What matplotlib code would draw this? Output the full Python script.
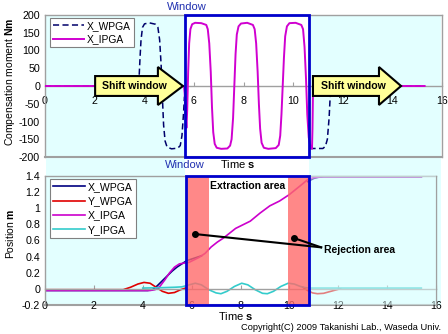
import matplotlib
matplotlib.use('Agg')
import matplotlib.pyplot as plt
import numpy as np
from matplotlib.patches import Rectangle, Polygon

plt.rcParams['font.family'] = ['Liberation Sans', 'DejaVu Sans']
plt.rcParams['mathtext.fontset'] = 'custom'
plt.rcParams['mathtext.rm'] = 'Liberation Sans'
plt.rcParams['mathtext.bf'] = 'Liberation Sans:bold'

NAN = float('nan')

# ---------------- data: top chart (compensation moment, Nm) ----------------
top_xticks = [0, 2, 4, 6, 8, 10, 12, 14, 16]
top_yticks = [200, 150, 100, 50, 0, -50, -100, -150, -200]
top_ylabels = ['200', '150', '100', '50', '0', '-50', '-100', '-150', '-200']

x_ipga_t = [0, 5.60, 5.63, 5.66, 5.70, 5.73, 5.77, 5.81, 5.86, 5.93, 6.05, 6.30, 6.50,
            6.56, 6.62, 6.68, 6.73, 6.78, 6.84, 6.92, 7.10, 7.35, 7.46, 7.52, 7.58,
            7.63, 7.68, 7.73, 7.80, 7.90, 8.15, 8.38, 8.45, 8.51, 8.57, 8.62, 8.67,
            8.73, 8.82, 9.00, 9.30, 9.42, 9.48, 9.53, 9.58, 9.63, 9.68, 9.75, 9.85,
            10.10, 10.33, 10.40, 10.46, 10.52, 10.57, 10.63, 10.70, 10.76, 10.78,
            10.80, 10.83, 15.30]
x_ipga_m = [0, 0, -20, -70, -118, -70, 40, 120, 160, 174, 178, 177, 172,
            160, 120, 40, -60, -130, -163, -174, -177, -176, -168, -150, -90,
            0, 90, 145, 168, 176, 178, 172, 160, 120, 40, -50, -120,
            -160, -174, -177, -175, -166, -140, -80, 0, 80, 140, 168, 177,
            178, 172, 160, 110, 20, -80, -145, -172, -177, -120,
            -20, 0, 0]

x_wpga_t = [0, 3.74, 3.79, 3.83, 3.87, 3.93, 4.01, 4.20, 4.45, 4.55, 4.62, 4.68,
            4.73, 4.78, 4.84, 4.92, 5.10, 5.35, 5.45, 5.52, 5.58, 5.62, NAN,
            10.66, 11.20, 11.30, 11.38, 11.45, 11.50, 11.55, 15.30]
x_wpga_m = [0, 0, 20, 80, 130, 165, 175, 178, 174, 165, 130, 60,
            -30, -110, -155, -172, -177, -175, -168, -140, -80, -30, NAN,
            -176, -176, -170, -150, -90, -20, 0, 0]

# ---------------- data: bottom chart (position, m) ----------------
bot_xticks = [0, 2, 4, 6, 8, 10, 12, 14, 16]
bot_yticks = [1.4, 1.2, 1.0, 0.8, 0.6, 0.4, 0.2, 0.0, -0.2]
bot_ylabels = ['1.4', '1.2', '1', '0.8', '0.6', '0.4', '0.2', '0', '-0.2']

pos_xw_t = [0, 4.2, 4.4, 4.6, 4.8, 5.0, 5.2, 5.4, 5.6, 5.8, 6.0, 6.2, 6.4, NAN,
            10.75, 11.0, 11.2, 11.4, 15.4]
pos_xw_v = [-0.02, -0.02, -0.01, 0.04, 0.1, 0.16, 0.22, 0.27, 0.31, 0.35, 0.37, 0.39, 0.41, NAN,
            1.33, 1.37, 1.385, 1.39, 1.39]

pos_yw_t = [0, 3.2, 3.5, 3.8, 4.05, 4.3, 4.55, 4.8, 5.05, 5.3, 5.55, 5.75, NAN,
            10.55, 10.75, 10.95, 11.15, 11.4, 11.7, 12.0, 12.1]
pos_yw_v = [-0.01, -0.01, 0.02, 0.06, 0.08, 0.07, 0.02, -0.03, -0.055, -0.045, -0.01, 0.01, NAN,
            0.02, -0.02, -0.05, -0.06, -0.055, -0.03, -0.005, 0.0]

pos_xi_t = [0, 4.3, 4.5, 4.7, 4.9, 5.1, 5.3, 5.5, 5.7, 5.9, 6.1, 6.3, 6.55, 6.8, 7.05,
            7.3, 7.55, 7.8, 8.0, 8.4, 8.8, 9.2, 9.6, 10.0, 10.45, 10.77, 11.0, 11.3, 15.4]
pos_xi_v = [-0.02, -0.02, -0.01, 0.03, 0.11, 0.2, 0.27, 0.31, 0.32, 0.33, 0.36, 0.39, 0.44, 0.52, 0.58,
            0.63, 0.69, 0.75, 0.78, 0.84, 0.94, 1.03, 1.09, 1.17, 1.28, 1.36, 1.38, 1.39, 1.39]

pos_yi_t = [4.0, 4.8, 5.3, 5.6, 5.9, 6.15, 6.4, 6.7, 7.0, 7.2, 7.45, 7.75, 8.05, 8.3, 8.6,
            8.9, 9.1, 9.35, 9.65, 9.95, 10.2, 10.45, 10.65, 10.8, 15.4]
pos_yi_v = [0.01, 0.015, 0.02, 0.025, 0.05, 0.07, 0.05, -0.01, -0.05, -0.06, -0.03, 0.03, 0.07, 0.05, -0.01,
            -0.055, -0.06, -0.03, 0.03, 0.07, 0.06, 0.03, 0.015, 0.01, 0.01]

# ---------------- figure ----------------
W, H = 448, 334
fig = plt.figure(figsize=(W / 100, H / 100), dpi=100)


def fx(px):
    return px / W


def fy(py):
    return 1 - py / H


LIGHT = '#E3FFFF'
GRAY = '#A0A0A0'
BLUE = '#0000CC'

fig.patches.append(Rectangle((fx(46), fy(306)), fx(441) - fx(46), fy(15) - fy(306),
                             transform=fig.transFigure, facecolor=LIGHT, edgecolor='none', zorder=-2))
fig.patches.append(Rectangle((fx(185), fy(306)), fx(309) - fx(185), fy(15) - fy(306),
                             transform=fig.transFigure, facecolor='white', edgecolor='none', zorder=-1))

# ---- top axes ----
ax1 = fig.add_axes([fx(45), fy(157), (442 - 45) / W, (157 - 15) / H])
ax1.patch.set_alpha(0)
ax1.set_xlim(0, 16)
ax1.set_ylim(-200, 200)
for s in ax1.spines.values():
    s.set_color(GRAY)
    s.set_linewidth(1)
ax1.spines['bottom'].set_position(('data', 0))
ax1.axhline(-200, color=GRAY, lw=1.5, clip_on=False, zorder=1)
ax1.set_xticks(top_xticks)
ax1.set_xticklabels([str(v) for v in top_xticks])
ax1.set_yticks(top_yticks)
ax1.set_yticklabels(top_ylabels)
ax1.tick_params(axis='x', direction='in', length=3, color=GRAY, pad=7.5, labelsize=7.7)
ax1.tick_params(axis='y', length=0, pad=3.5, labelsize=7.7)

l1, = ax1.plot(x_wpga_t, x_wpga_m, color='#00006A', lw=1.1, dashes=(4, 2.2), label='X_WPGA', zorder=3)
l2, = ax1.plot(x_ipga_t, x_ipga_m, color='#D000D0', lw=1.4, label='X_IPGA', zorder=4)

hb, hh = 28, 53.5
for x0, xh, xt, tx in [(2.02, 4.55, 5.56, 3.59), (10.8, 13.46, 14.35, 12.41)]:
    poly = Polygon([(x0, -hb), (xh, -hb), (xh, -hh), (xt, 0), (xh, hh), (xh, hb), (x0, hb)],
                   closed=True, facecolor='#FFFF99', edgecolor='black', lw=1.5,
                   joinstyle='miter', zorder=6, clip_on=False)
    ax1.add_patch(poly)
    ax1.text(tx, 0, 'Shift window', ha='center', va='center', fontsize=7.6,
             fontweight='bold', zorder=7)

ax1.add_patch(Rectangle((5.64, -200), 5.0, 400, fill=False, edgecolor=BLUE, lw=2,
                        zorder=8, clip_on=False))

leg1 = ax1.legend(handles=[l1, l2], loc='upper left',
                  bbox_to_anchor=((50 - 45) / 397, 1 - (18 - 15) / 142), borderaxespad=0,
                  fontsize=7.4, fancybox=False, edgecolor='#808080', framealpha=1,
                  handlelength=3, labelspacing=0.3, borderpad=0.3, handletextpad=0.3)
leg1.get_frame().set_linewidth(0.8)
leg1.set_zorder(10)

# ---- bottom axes ----
ax2 = fig.add_axes([fx(45), fy(305), (436 - 45) / W, (305 - 176) / H])
ax2.patch.set_alpha(0)
ax2.set_xlim(0, 16)
ax2.set_ylim(-0.2, 1.4)
for s in ax2.spines.values():
    s.set_color(GRAY)
    s.set_linewidth(1)
ax2.spines['bottom'].set_position(('data', 0))
ax2.axhline(-0.2, color=GRAY, lw=1.5, clip_on=False, zorder=1)
ax2.set_xticks(bot_xticks)
ax2.set_xticklabels([str(v) for v in bot_xticks])
ax2.set_yticks(bot_yticks)
ax2.set_yticklabels(bot_ylabels)
ax2.tick_params(axis='x', direction='in', length=3, color=GRAY, pad=8.5, labelsize=7.7)
ax2.tick_params(axis='y', length=0, pad=3.5, labelsize=7.7)

m1, = ax2.plot(pos_xw_t, pos_xw_v, color='#000080', lw=1.2, label='X_WPGA', zorder=2)
m2, = ax2.plot(pos_yw_t, pos_yw_v, color='#E00000', lw=1.2, label='Y_WPGA', zorder=2)
m3, = ax2.plot(pos_xi_t, pos_xi_v, color='#CC00CC', lw=1.2, label='X_IPGA', zorder=2)
m4, = ax2.plot(pos_yi_t, pos_yi_v, color='#33CCCC', lw=1.2, label='Y_IPGA', zorder=2)

ax2.axvspan(5.75, 6.71, color='#FF6A6A', alpha=0.8, lw=0, zorder=3)
ax2.axvspan(9.93, 10.8, color='#FF6A6A', alpha=0.8, lw=0, zorder=3)
ax2.axvspan(10.8, 16, color=LIGHT, alpha=0.5, lw=0, zorder=3)
ax2.add_patch(Rectangle((5.75, -0.2), 5.05, 1.6, fill=False, edgecolor=BLUE, lw=2,
                        zorder=8, clip_on=False))

ax2.text(6.75, 1.276, 'Extraction area', ha='left', va='center', fontsize=7.5,
         fontweight='bold', zorder=9)
ax2.text(11.42, 0.48, 'Rejection area', ha='left', va='center', fontsize=7.5,
         fontweight='bold', zorder=9)
for (sx, sy) in [(6.14, 0.68), (10.19, 0.63)]:
    ax2.plot([sx, 11.3], [sy, 0.515], color='black', lw=1.5, zorder=9)
    ax2.plot([sx], [sy], 'o', color='black', ms=4, zorder=9)

leg2 = ax2.legend(handles=[m1, m2, m3, m4], loc='upper left',
                  bbox_to_anchor=((50 - 45) / 391, 1 - (179 - 176) / 129), borderaxespad=0,
                  fontsize=7.6, fancybox=False, edgecolor='#808080', framealpha=1,
                  handlelength=3, labelspacing=0.4, borderpad=0.3, handletextpad=0.3)
leg2.get_frame().set_linewidth(0.8)
leg2.set_zorder(10)

# ---- figure texts ----
fig.text(fx(187), fy(7), 'Window', color='#2030B0', fontsize=8, ha='center', va='center')
fig.text(fx(185), fy(165), 'Window', color='#2030B0', fontsize=8, ha='center', va='center')
fig.text(fx(238), fy(164), r'Time $\mathbf{s}$', fontsize=8, ha='center', va='center')
fig.text(fx(236), fy(316), r'Time $\mathbf{s}$', fontsize=8, ha='center', va='center')
fig.text(fx(10), fy(82), r'Compensation moment $\mathbf{Nm}$', fontsize=7.5,
         rotation=90, ha='center', va='center')
fig.text(fx(10), fy(234), r'Position $\mathbf{m}$', fontsize=7.5,
         rotation=90, ha='center', va='center')
fig.text(fx(441), fy(327), 'Copyright(C) 2009 Takanishi Lab., Waseda Univ.', fontsize=6.7,
         ha='right', va='center')

fig.savefig('out.png', dpi=100)
